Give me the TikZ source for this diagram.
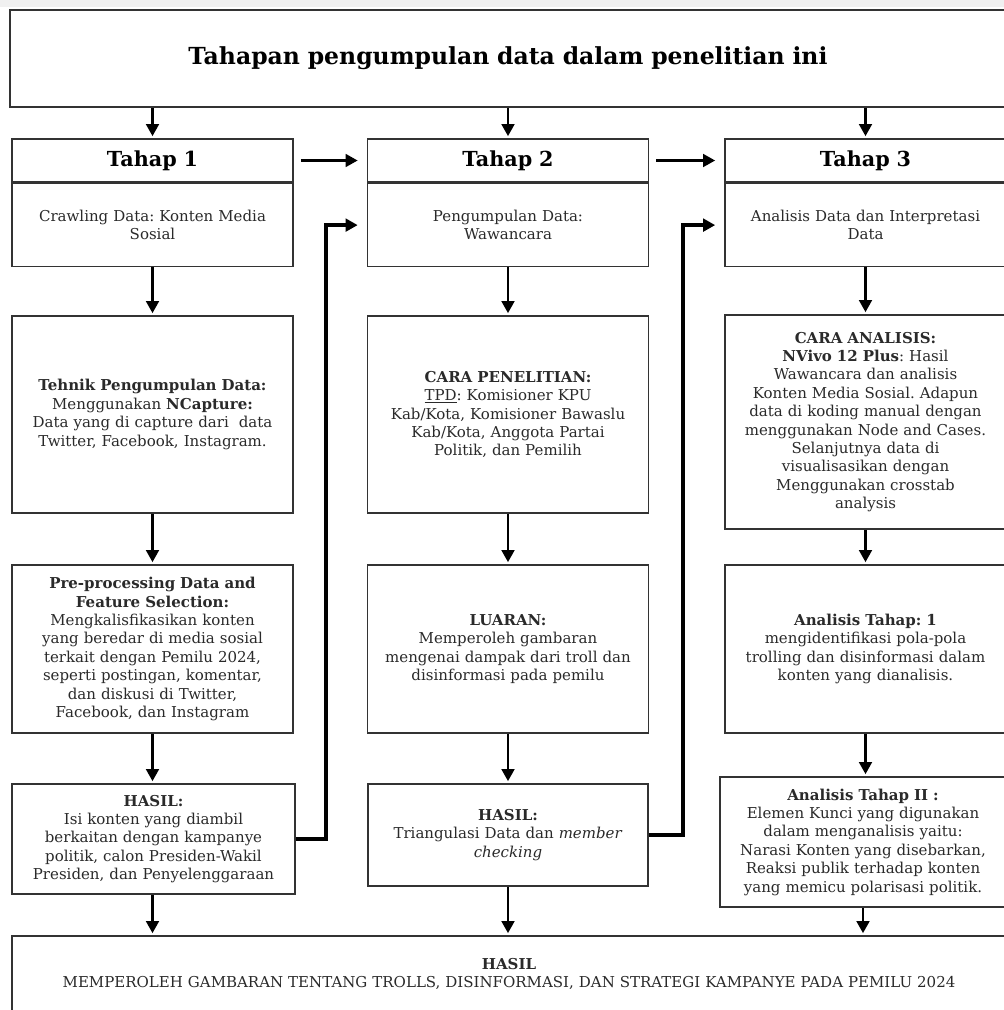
\documentclass[tikz,border=0pt]{standalone}
\usepackage{fontspec}
\setmainfont{DejaVu Serif}
\usetikzlibrary{arrows.meta}
\frenchspacing

\definecolor{boxline}{HTML}{333333}
\definecolor{bodytext}{HTML}{2A2A2A}

\begin{document}
\begin{tikzpicture}[x=1pt, y=-1pt,
    box/.style={draw=boxline, line width=1.6pt, fill=white, inner sep=0pt,
        minimum width=281pt, text width=275pt, align=center, text=bodytext,
        font=\fontsize{15}{18.4}\selectfont},
    head/.style={box, text=black, font=\bfseries\fontsize{20.7}{24}\selectfont},
    flow/.style={line width=2.8pt, -{Triangle[length=12pt,width=12.5pt]}, shorten >=2pt},
    elbow/.style={flow, line width=3.8pt, shorten >=9pt}
]
    \clip (0,0) rectangle (1004,1010);
    \fill[gray!12] (0,0) rectangle (1004,7);

    % Judul
    \node[box, minimum width=996pt, minimum height=97pt, text width=900pt,
        text=black, font=\bfseries\fontsize{23.5}{27}\selectfont] (judul) at (508,58.5)
        {Tahapan pengumpulan data dalam penelitian ini};

    % Tahap 1, 2, 3
    \node[head, minimum height=43pt] (tahap1) at (152.5,160.5) {Tahap 1};
    \node[head, minimum height=43pt] (tahap2) at (508,160.5) {Tahap 2};
    \node[head, minimum height=43pt] (tahap3) at (865.5,160.5) {Tahap 3};
    \node[box, minimum height=83pt, anchor=north] (isi1) at (tahap1.south)
        {Crawling Data: Konten Media\\Sosial};
    \node[box, minimum height=83pt, anchor=north] (isi2) at (tahap2.south)
        {Pengumpulan Data:\\Wawancara};
    \node[box, minimum height=83pt, anchor=north] (isi3) at (tahap3.south)
        {Analisis Data dan Interpretasi\\Data};

    % Baris kedua
    \node[box, minimum height=197pt] (tehnik) at (152.5,414.5)
        {\textbf{Tehnik Pengumpulan Data:}\\Menggunakan \textbf{NCapture:}\\
         Data yang di capture dari\ \ data\\Twitter, Facebook, Instagram.};
    \node[box, minimum height=197pt] (cara) at (508,414.5)
        {\textbf{CARA PENELITIAN:}\\\underline{TPD}: Komisioner KPU\\
         Kab/Kota, Komisioner Bawaslu\\Kab/Kota, Anggota Partai\\Politik, dan Pemilih};
    \node[box, minimum height=214pt] (caraanalisis) at (865.5,422)
        {\textbf{CARA ANALISIS:}\\\textbf{NVivo 12 Plus}: Hasil\\Wawancara dan analisis\\
         Konten Media Sosial. Adapun\\data di koding manual dengan\\
         menggunakan Node and Cases.\\Selanjutnya data di\\visualisasikan dengan\\
         Menggunakan crosstab\\analysis};

    % Baris ketiga
    \node[box, minimum height=168pt] (preproc) at (152.5,649)
        {\textbf{Pre-processing Data and}\\\textbf{Feature Selection:}\\
         Mengkalisfikasikan konten\\yang beredar di media sosial\\
         terkait dengan Pemilu 2024,\\seperti postingan, komentar,\\
         dan diskusi di Twitter,\\Facebook, dan Instagram};
    \node[box, minimum height=168pt] (luaran) at (508,649)
        {\textbf{LUARAN:}\\Memperoleh gambaran\\mengenai dampak dari troll dan\\
         disinformasi pada pemilu};
    \node[box, minimum height=168pt] (analisis1) at (865.5,649)
        {\textbf{Analisis Tahap: 1}\\mengidentifikasi pola-pola\\
         trolling dan disinformasi dalam\\konten yang dianalisis.};

    % Baris keempat
    \node[box, minimum width=283pt, minimum height=110pt] (hasil1) at (153.5,839)
        {\textbf{HASIL:}\\Isi konten yang diambil\\berkaitan dengan kampanye\\
         politik, calon Presiden-Wakil\\Presiden, dan Penyelenggaraan};
    \node[box, minimum width=280pt, minimum height=102pt] (hasil2) at (508,835)
        {\textbf{HASIL:}\\Triangulasi Data dan \textit{member}\\\textit{checking}};
    \node[box, minimum width=286pt, minimum height=130pt] (analisis2) at (863,842)
        {\textbf{Analisis Tahap II :}\\Elemen Kunci yang digunakan\\
         dalam menganalisis yaitu:\\Narasi Konten yang disebarkan,\\
         Reaksi publik terhadap konten\\yang memicu polarisasi politik.};

    % Hasil akhir
    \node[box, minimum width=994pt, minimum height=76pt, text width=980pt] (akhir) at (509,974)
        {\textbf{HASIL}\\MEMPEROLEH GAMBARAN TENTANG TROLLS, DISINFORMASI, DAN STRATEGI KAMPANYE PADA PEMILU 2024};

    % Panah dari judul
    \draw[flow] (judul.south -| tahap1) -- (tahap1);
    \draw[flow] (judul.south -| tahap2) -- (tahap2);
    \draw[flow] (judul.south -| tahap3) -- (tahap3);

    % Panah antar tahap
    \draw[flow, shorten <=7pt, shorten >=9pt] (tahap1) -- (tahap2);
    \draw[flow, shorten <=7pt, shorten >=9pt] (tahap2) -- (tahap3);

    % Panah ke bawah
    \draw[flow] (isi1) -- (tehnik);
    \draw[flow] (isi2) -- (cara);
    \draw[flow] (isi3) -- (caraanalisis);
    \draw[flow] (tehnik) -- (preproc);
    \draw[flow] (cara) -- (luaran);
    \draw[flow] (caraanalisis) -- (analisis1);
    \draw[flow] (preproc.south) -- (preproc.south |- hasil1.north);
    \draw[flow] (luaran) -- (hasil2);
    \draw[flow] (analisis1.south) -- (analisis1.south |- analisis2.north);
    \draw[flow] (hasil1.south -| preproc) -- (akhir.north -| preproc);
    \draw[flow] (hasil2) -- (hasil2 |- akhir.north);
    \draw[flow] (analisis2) -- (analisis2 |- akhir.north);

    % Panah siku ke tahap berikutnya
    \draw[elbow] (hasil1.east) -- ++(30,0) |- (isi2.west);
    \draw[elbow] (hasil2.east) -- ++(34,0) |- (isi3.west);
\end{tikzpicture}
\end{document}
